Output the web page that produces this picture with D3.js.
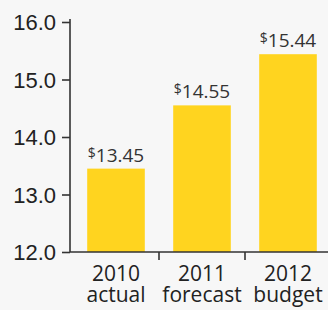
<!DOCTYPE html>
<html>
<head>
<meta charset="utf-8">
<script src="https://cdn.jsdelivr.net/npm/d3@7"></script>
<style>
  body { margin: 0; background: #f7f7f7; }
  svg { display: block; font-family: "Open Sans", sans-serif; }
</style>
</head>
<body>
<svg id="chart" width="328" height="310"></svg>
<script>
// data
const years = ["2010", "2011", "2012"];
const kinds = ["actual", "forecast", "budget"];
const values = [13.45, 14.55, 15.44];
const yTicks = [12, 13, 14, 15, 16];

const svg = d3.select("#chart");
const ink = "#333";

// y scale
const y = d3.scaleLinear().domain([12, 16]).range([252, 22]);
const x = d3.scaleBand().domain(years).range([73, 331]).paddingInner(0.33).paddingOuter(0.165);

// y axis
const yAxis = d3.axisLeft(y).tickValues(yTicks).tickFormat(d3.format(".1f"))
  .tickSizeInner(8).tickSizeOuter(0).tickPadding(6);
const yg = svg.append("g").attr("transform", "translate(70,0)").call(yAxis);
yg.select(".domain").attr("d", "M0,19V252").attr("stroke", ink).attr("stroke-width", 1.6);
yg.selectAll(".tick line").attr("stroke", ink).attr("stroke-width", 1.6);
yg.selectAll(".tick text").attr("fill", "#222").attr("font-size", 22).attr("dy", "0.36em");

// bars
svg.selectAll("rect.bar")
  .data(values)
  .join("rect")
  .attr("class", "bar")
  .attr("x", (d, i) => x(years[i]))
  .attr("y", d => y(d))
  .attr("width", x.bandwidth())
  .attr("height", d => y(12) - y(d))
  .attr("fill", "#ffd41f");

// value labels
const lbl = svg.selectAll("text.val")
  .data(values)
  .join("text")
  .attr("class", "val")
  .attr("x", (d, i) => x(years[i]) + x.bandwidth() / 2)
  .attr("y", d => y(d) - 7)
  .attr("text-anchor", "middle")
  .attr("fill", "#333")
  .attr("font-size", 19);
lbl.append("tspan").attr("font-size", 14).attr("dy", -4).text("$");
lbl.append("tspan").attr("dy", 4).text(d => d.toFixed(2));

// x axis line + boundary ticks
svg.append("line").attr("x1", 70).attr("x2", 328).attr("y1", 252).attr("y2", 252)
  .attr("stroke", ink).attr("stroke-width", 1.6);
const step = x.step();
svg.selectAll("line.sep")
  .data(years.slice(1))
  .join("line")
  .attr("class", "sep")
  .attr("x1", d => x(d) - (step - x.bandwidth()) / 2)
  .attr("x2", d => x(d) - (step - x.bandwidth()) / 2)
  .attr("y1", 252).attr("y2", 260)
  .attr("stroke", ink).attr("stroke-width", 1.6);

// category labels
const cat = svg.selectAll("text.cat")
  .data(years)
  .join("text")
  .attr("class", "cat")
  .attr("text-anchor", "middle")
  .attr("fill", "#222")
  .attr("font-size", 21);
cat.append("tspan").attr("x", d => x(d) + x.bandwidth() / 2).attr("y", 281).text(d => d);
cat.append("tspan").attr("x", d => x(d) + x.bandwidth() / 2).attr("y", 302).text((d, i) => kinds[i]);
</script>
</body>
</html>
